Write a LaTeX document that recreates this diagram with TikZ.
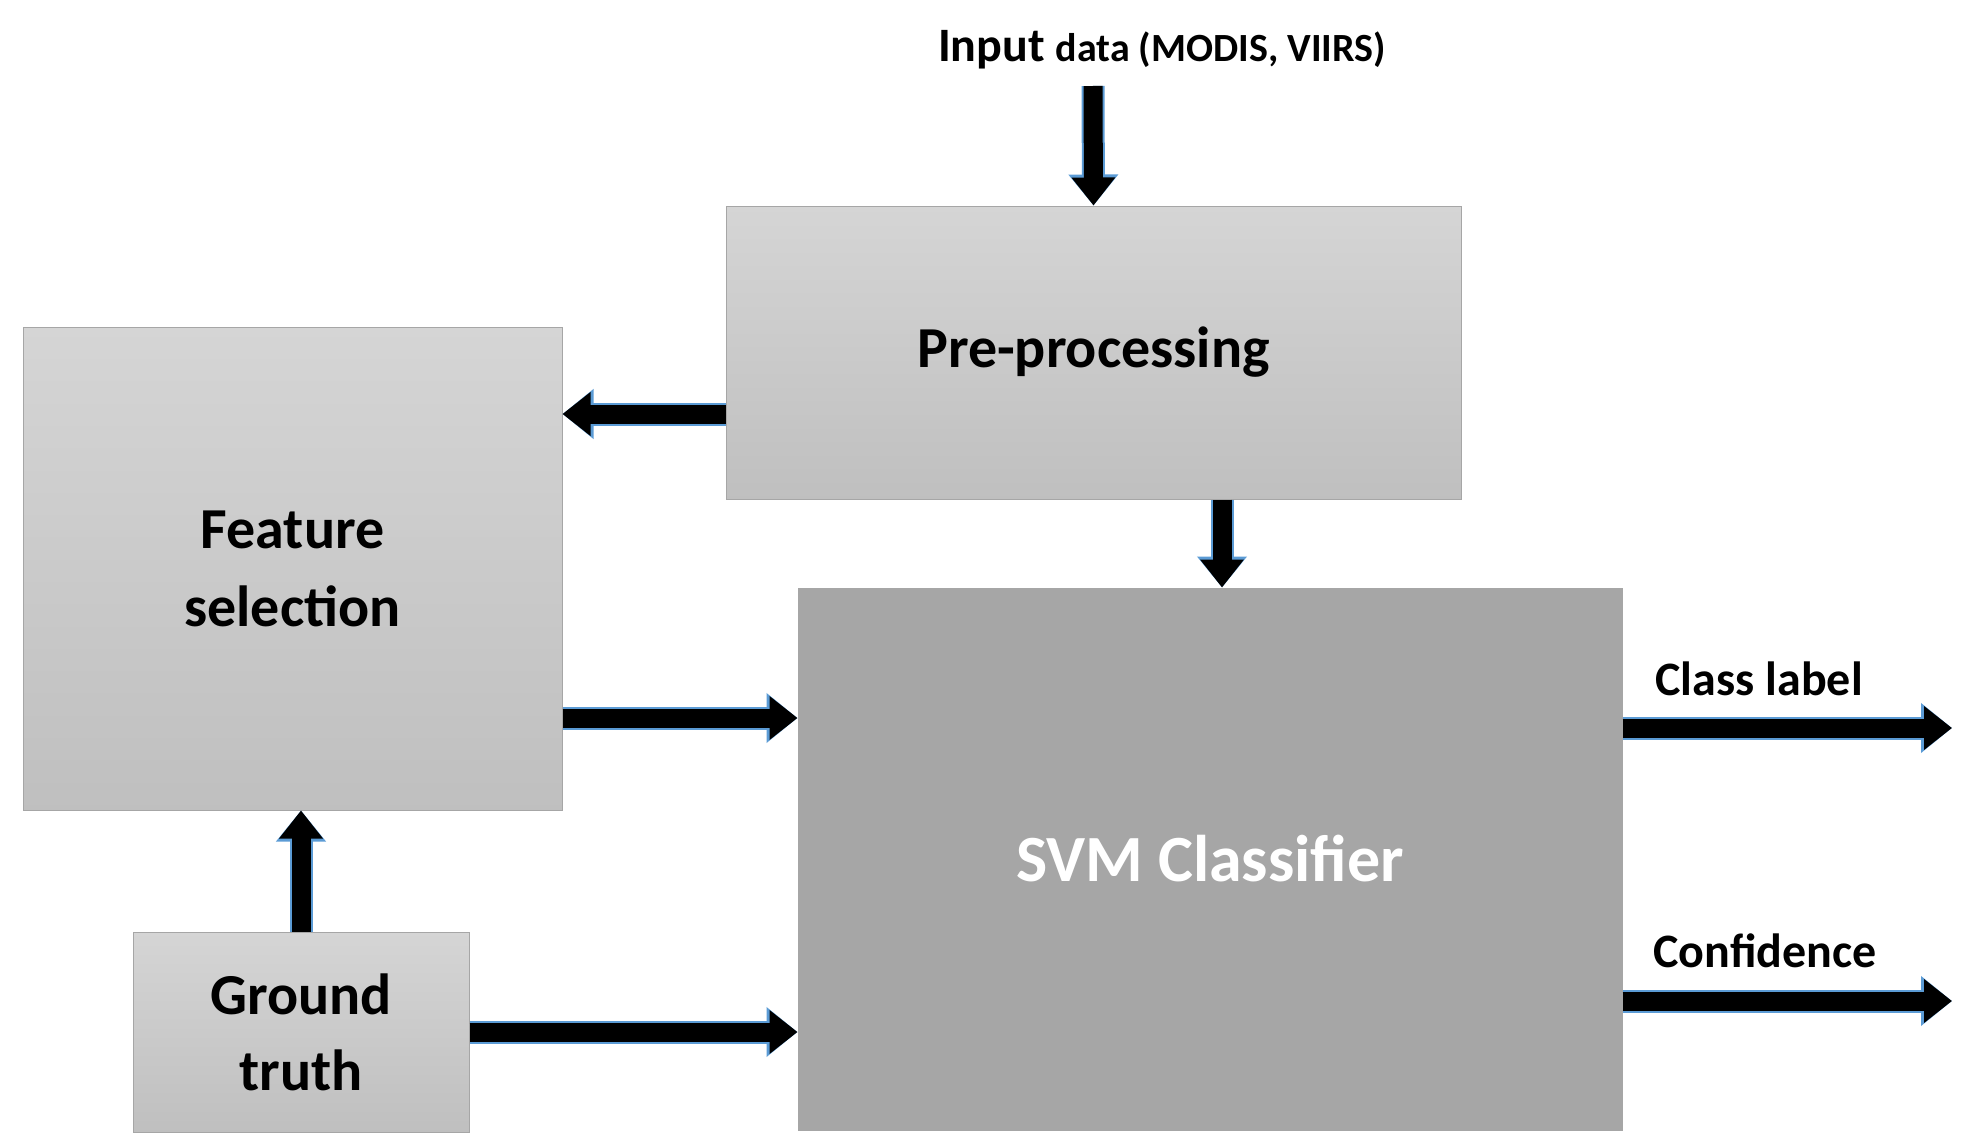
\documentclass[tikz,border=0pt]{standalone}
\usepackage{fontspec}
\setmainfont{Carlito}
\usetikzlibrary{arrows.meta,positioning}
\definecolor{bl}{HTML}{5B9BD5}
\tikzset{
 box/.style={draw=gray!70,line width=1pt,top color=gray!33,bottom color=gray!50,inner sep=0pt,align=center,font=\bfseries\fontsize{58}{70}\selectfont},
 conn/.style={line width=19pt,draw=black,-{Triangle[length=28pt,width=42pt]},
   preaction={draw=bl,line width=23pt,-{Triangle[length=31pt,width=48pt]}}},
 lab/.style={font=\bfseries\fontsize{48}{56}\selectfont}
}
\begin{document}
\begin{tikzpicture}[x=1pt,y=-1pt]
\useasboundingbox (0,0) rectangle (1971,1148);
\node[box,minimum width=735pt,minimum height=293pt] (pre) at (1093.5,352.5) {Pre-processing};
\node[box,minimum width=539pt,minimum height=483pt] (fs) at (292.5,568.5) {Feature\\[8pt]selection};
\node[box,minimum width=824pt,minimum height=542pt,top color=gray!70,bottom color=gray!70,draw=gray!70,text=white,font=\bfseries\fontsize{66}{78}\selectfont] (svm) at (1210,859) {SVM Classifier};
\node[box,minimum width=336pt,minimum height=200pt] (gt) at (301,1032) {Ground\\[6pt]truth};
\node[lab,anchor=base] (inp) at (1162,62) {Input {\fontsize{40}{48}\selectfont data (MODIS, VIIRS)}};
\node[lab,anchor=base west] (cl) at (1652,695) {Class label};
\node[lab,anchor=base west] (cf) at (1650,967) {Confidence};
\coordinate (c1) at (1093,86);
\coordinate (o1) at (1952,728);
\coordinate (o2) at (1952,1001);
\draw[conn] (c1) -- (pre.north);
\draw[conn] (pre.west|-0,414) -- (fs.east|-0,414);
\draw[conn] (pre.south-|1222,0) -- (svm.north-|1222,0);
\draw[conn] (fs.east|-0,718) -- (svm.west|-0,718);
\draw[conn] (gt.north) -- (fs.south-|gt.north);
\draw[conn] (gt.east|-0,1032) -- (svm.west|-0,1032);
\draw[conn] (svm.east|-o1) -- (o1);
\draw[conn] (svm.east|-o2) -- (o2);
\end{tikzpicture}
\end{document}
